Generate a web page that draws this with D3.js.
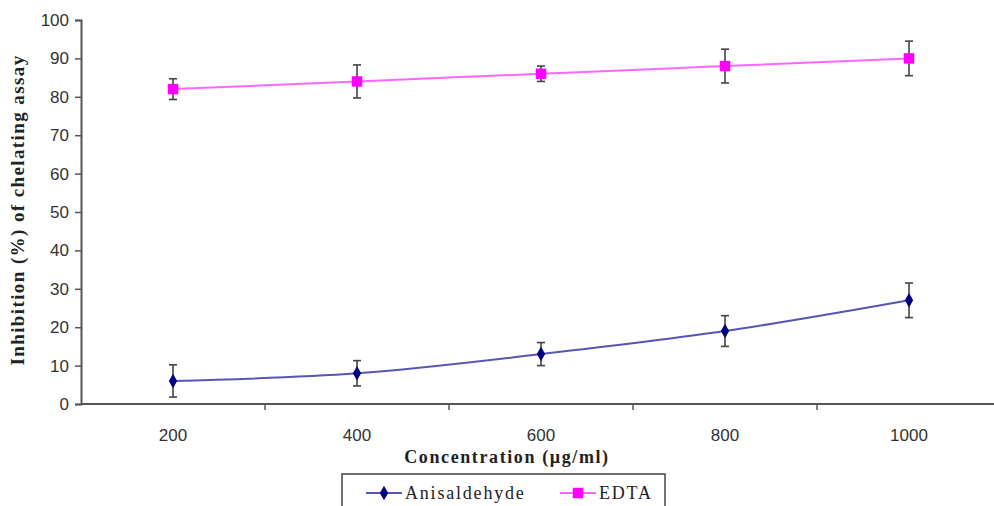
<!DOCTYPE html>
<html>
<head>
<meta charset="utf-8">
<script src="https://cdn.jsdelivr.net/npm/d3@7"></script>
<style>
  body { margin: 0; background: #fff; }
  svg { display: block; }
</style>
</head>
<body>
<div class="chart"></div>
<script>
// data
var concentrations = ["200", "400", "600", "800", "1000"];
var anisaldehyde = [6, 8, 13, 19, 27];
var anisaldehydeErr = [4.2, 3.3, 3, 4, 4.5];
var edta = [82, 84, 86, 88, 90];
var edtaErr = [2.7, 4.3, 2, 4.4, 4.5];
var yTicks = [0, 10, 20, 30, 40, 50, 60, 70, 80, 90, 100];

var width = 994, height = 506;

var svg = d3.select(".chart").append("svg")
    .attr("width", width)
    .attr("height", height);

var x = d3.scaleBand()
    .domain(concentrations)
    .range([81, 1001]);

var y = d3.scaleLinear()
    .domain([0, 100])
    .range([404, 20]);

var axisColor = "#555";

// y axis
var yAxis = svg.append("g")
    .attr("transform", "translate(81,0)")
    .call(d3.axisLeft(y).tickValues(yTicks).tickSize(6).tickPadding(6));
yAxis.select(".domain").attr("stroke", axisColor).attr("stroke-width", 2);
yAxis.selectAll(".tick line").attr("stroke", axisColor).attr("stroke-width", 1.5);
yAxis.selectAll(".tick text")
    .attr("font-family", "Liberation Sans, Arial, sans-serif")
    .attr("font-size", 17)
    .attr("fill", "#333");

// x axis: ticks sit between categories
var xAxis = svg.append("g")
    .attr("transform", "translate(0,404)");
xAxis.append("line")
    .attr("x1", 81).attr("x2", 1001)
    .attr("stroke", axisColor).attr("stroke-width", 2);
xAxis.selectAll(".sep")
    .data(concentrations)
    .enter().append("line")
    .attr("class", "sep")
    .attr("x1", function(d){ return x(d) + x.bandwidth(); })
    .attr("x2", function(d){ return x(d) + x.bandwidth(); })
    .attr("y1", 0).attr("y2", 6)
    .attr("stroke", axisColor).attr("stroke-width", 1.5);
xAxis.selectAll(".lbl")
    .data(concentrations)
    .enter().append("text")
    .attr("class", "lbl")
    .attr("x", function(d){ return x(d) + x.bandwidth() / 2; })
    .attr("y", 37)
    .attr("text-anchor", "middle")
    .attr("font-family", "Liberation Sans, Arial, sans-serif")
    .attr("font-size", 17)
    .attr("fill", "#333")
    .text(function(d){ return d; });

// axis titles
svg.append("text")
    .attr("transform", "translate(24,210) rotate(-90)")
    .attr("text-anchor", "middle")
    .attr("font-family", "Liberation Serif, Times New Roman, serif")
    .attr("font-weight", "bold")
    .attr("font-size", 19)
    .attr("letter-spacing", 1.4)
    .attr("fill", "#222")
    .text("Inhibition (%) of chelating assay");

svg.append("text")
    .attr("x", 507)
    .attr("y", 463)
    .attr("text-anchor", "middle")
    .attr("font-family", "Liberation Serif, Times New Roman, serif")
    .attr("font-weight", "bold")
    .attr("font-size", 18)
    .attr("letter-spacing", 1.6)
    .attr("fill", "#222")
    .text("Concentration (µg/ml)");

var cx = function(d, i){ return x(concentrations[i]) + x.bandwidth() / 2; };

var line = d3.line()
    .x(cx)
    .y(function(d){ return y(d); })
    .curve(d3.curveMonotoneX);

var series = [
    { name: "Anisaldehyde", values: anisaldehyde, err: anisaldehydeErr, line: "#5656b4", marker: "#000080", symbol: d3.symbolDiamond, size: 60 },
    { name: "EDTA", values: edta, err: edtaErr, line: "#ff66ff", marker: "#ff00ff", symbol: d3.symbolSquare, size: 110 }
];

series.forEach(function(s){
    var g = svg.append("g");

    g.append("path")
        .datum(s.values)
        .attr("d", line)
        .attr("fill", "none")
        .attr("stroke", s.line)
        .attr("stroke-width", 2);

    // error bars
    var eb = g.selectAll(".err")
        .data(s.values)
        .enter().append("g")
        .attr("class", "err")
        .attr("stroke", "#444")
        .attr("stroke-width", 1.6);
    eb.append("line")
        .attr("x1", cx).attr("x2", cx)
        .attr("y1", function(d, i){ return y(d + s.err[i]); })
        .attr("y2", function(d, i){ return y(d - s.err[i]); });
    eb.append("line")
        .attr("x1", function(d, i){ return cx(d, i) - 4; })
        .attr("x2", function(d, i){ return cx(d, i) + 4; })
        .attr("y1", function(d, i){ return y(d + s.err[i]); })
        .attr("y2", function(d, i){ return y(d + s.err[i]); });
    eb.append("line")
        .attr("x1", function(d, i){ return cx(d, i) - 4; })
        .attr("x2", function(d, i){ return cx(d, i) + 4; })
        .attr("y1", function(d, i){ return y(d - s.err[i]); })
        .attr("y2", function(d, i){ return y(d - s.err[i]); });

    g.selectAll(".pt")
        .data(s.values)
        .enter().append("path")
        .attr("class", "pt")
        .attr("d", d3.symbol().type(s.symbol).size(s.size))
        .attr("transform", function(d, i){ return "translate(" + cx(d, i) + "," + y(d) + ")"; })
        .attr("fill", s.marker);
});

// legend (cut by bottom edge like the reference)
var legend = svg.append("g");
legend.append("rect")
    .attr("x", 342).attr("y", 474)
    .attr("width", 323).attr("height", 50)
    .attr("fill", "#fff")
    .attr("stroke", "#444")
    .attr("stroke-width", 1.5);

var legendPos = [366, 560];
series.forEach(function(s, i){
    var lx = legendPos[i];
    legend.append("line")
        .attr("x1", lx).attr("x2", lx + 36)
        .attr("y1", 493).attr("y2", 493)
        .attr("stroke", s.line).attr("stroke-width", 2);
    legend.append("path")
        .attr("d", d3.symbol().type(s.symbol).size(s.size))
        .attr("transform", "translate(" + (lx + 18) + ",493)")
        .attr("fill", s.marker);
    legend.append("text")
        .attr("x", lx + 39)
        .attr("y", 499)
        .attr("font-family", "Liberation Serif, Times New Roman, serif")
        .attr("font-size", 18)
        .attr("letter-spacing", 1.8)
        .attr("fill", "#222")
        .text(s.name);
});
</script>
</body>
</html>
